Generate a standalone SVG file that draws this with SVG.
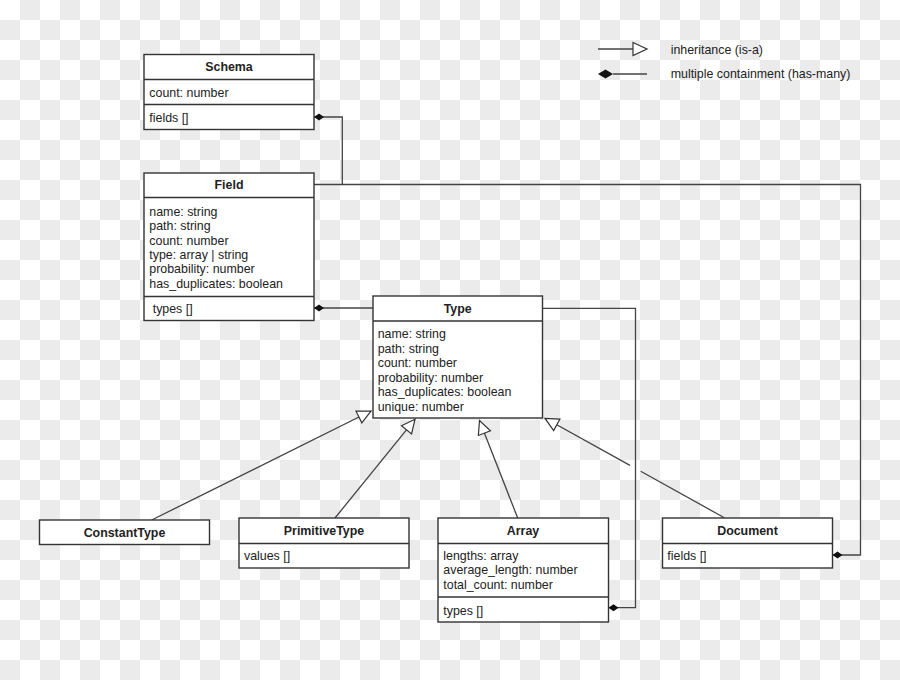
<svg xmlns="http://www.w3.org/2000/svg" width="900" height="680" viewBox="0 0 900 680">
<defs>
<pattern id="cb" width="40" height="40" patternUnits="userSpaceOnUse">
<rect width="40" height="40" fill="#ffffff"/>
<rect x="20" y="0" width="20" height="20" fill="#ebebeb"/>
<rect x="0" y="20" width="20" height="20" fill="#ebebeb"/>
</pattern>
<marker id="tri" markerUnits="userSpaceOnUse" markerWidth="16" markerHeight="16" refX="14" refY="7" orient="auto" overflow="visible">
<path d="M0.5,0.5 L14,7 L0.5,13.5 Z" fill="#ffffff" stroke="#333333" stroke-width="1.2"/>
</marker>
<marker id="dia" markerUnits="userSpaceOnUse" markerWidth="12" markerHeight="10" refX="10" refY="3.5" orient="auto" overflow="visible">
<path d="M0,3.5 L5,0 L10,3.5 L5,7 Z" fill="#111111"/>
</marker>
<style>
.box{fill:#ffffff;stroke:#333333;stroke-width:1.4}
.sep{stroke:#333333;stroke-width:1.4}
.con{fill:none;stroke:#444444;stroke-width:1.3}
text{font-family:"Liberation Sans",Arial,sans-serif;font-size:12.4px;fill:#222222}
.h{font-weight:bold;text-anchor:middle}
</style>
</defs>
<rect width="900" height="680" fill="url(#cb)"/>

<g id="legend">
<line x1="598" y1="49" x2="633" y2="49" class="con"/>
<path d="M633,42.5 L647,49 L633,55.5 Z" fill="#ffffff" stroke="#333333" stroke-width="1.2"/>
<text x="670.7" y="54">inheritance (is-a)</text>
<path d="M598,74 L605.5,69.5 L613,74 L605.5,78.5 Z" fill="#111111"/>
<line x1="613" y1="74" x2="647" y2="74" class="con"/>
<text x="670.7" y="78.3">multiple containment (has-many)</text>
</g>

<g id="connectors">
<path class="con" d="M342.3,184.5 L342.3,117 L314,117" marker-end="url(#dia)"/>
<path class="con" d="M314,184.5 L860.5,184.5 L860.5,555 L832.5,555" marker-end="url(#dia)"/>
<path class="con" d="M373,308 L314,308" marker-end="url(#dia)"/>
<path class="con" d="M542,308.3 L635.5,308.3 L635.5,607.7 L608.5,607.7" marker-end="url(#dia)"/>
<path class="con" d="M151.7,520 L371,411" marker-end="url(#tri)"/>
<path class="con" d="M335,518 L415,419.3" marker-end="url(#tri)"/>
<path class="con" d="M517.7,518 L479.5,420.5" marker-end="url(#tri)"/>
<path class="con" d="M724.3,517.7 L640.7,471.3"/>
<path class="con" d="M630,465.4 L545,418.3" marker-end="url(#tri)"/>
</g>

<g id="schema">
<rect class="box" x="144" y="54.5" width="170" height="75"/>
<line class="sep" x1="144" y1="79.5" x2="314" y2="79.5"/>
<line class="sep" x1="144" y1="104.5" x2="314" y2="104.5"/>
<text class="h" x="229" y="71">Schema</text>
<text x="149.3" y="96.8">count: number</text>
<text x="149.3" y="122">fields []</text>
</g>

<g id="field">
<rect class="box" x="144" y="173" width="170" height="147.5"/>
<line class="sep" x1="144" y1="197.5" x2="314" y2="197.5"/>
<line class="sep" x1="144" y1="296.5" x2="314" y2="296.5"/>
<text class="h" x="229" y="189.4">Field</text>
<text x="149.3" y="215.7">name: string</text>
<text x="149.3" y="230.1">path: string</text>
<text x="149.3" y="244.5">count: number</text>
<text x="149.3" y="258.9">type: array | string</text>
<text x="149.3" y="273.3">probability: number</text>
<text x="149.3" y="287.7">has_duplicates: boolean</text>
<text x="152.7" y="312.6">types []</text>
</g>

<g id="type">
<rect class="box" x="373" y="296" width="169.5" height="122"/>
<line class="sep" x1="373" y1="321" x2="542.5" y2="321"/>
<text class="h" x="457.7" y="312.7">Type</text>
<text x="377.7" y="338.3">name: string</text>
<text x="377.7" y="352.8">path: string</text>
<text x="377.7" y="367.3">count: number</text>
<text x="377.7" y="381.7">probability: number</text>
<text x="377.7" y="396.2">has_duplicates: boolean</text>
<text x="377.7" y="410.7">unique: number</text>
</g>

<g id="constanttype">
<rect class="box" x="39.5" y="520" width="170" height="24.5"/>
<text class="h" x="124.5" y="537.4">ConstantType</text>
</g>

<g id="primitivetype">
<rect class="box" x="239" y="518" width="170" height="50"/>
<line class="sep" x1="239" y1="543.5" x2="409" y2="543.5"/>
<text class="h" x="324" y="535">PrimitiveType</text>
<text x="244" y="559.5">values []</text>
</g>

<g id="array">
<rect class="box" x="438" y="518" width="170.5" height="104"/>
<line class="sep" x1="438" y1="543.5" x2="608.5" y2="543.5"/>
<line class="sep" x1="438" y1="597" x2="608.5" y2="597"/>
<text class="h" x="523" y="535">Array</text>
<text x="443.3" y="560">lengths: array</text>
<text x="443.3" y="574.4">average_length: number</text>
<text x="443.3" y="588.7">total_count: number</text>
<text x="443.3" y="615">types []</text>
</g>

<g id="document">
<rect class="box" x="662.5" y="518" width="170" height="50"/>
<line class="sep" x1="662.5" y1="543.5" x2="832.5" y2="543.5"/>
<text class="h" x="747.5" y="535">Document</text>
<text x="667.3" y="560">fields []</text>
</g>
</svg>
